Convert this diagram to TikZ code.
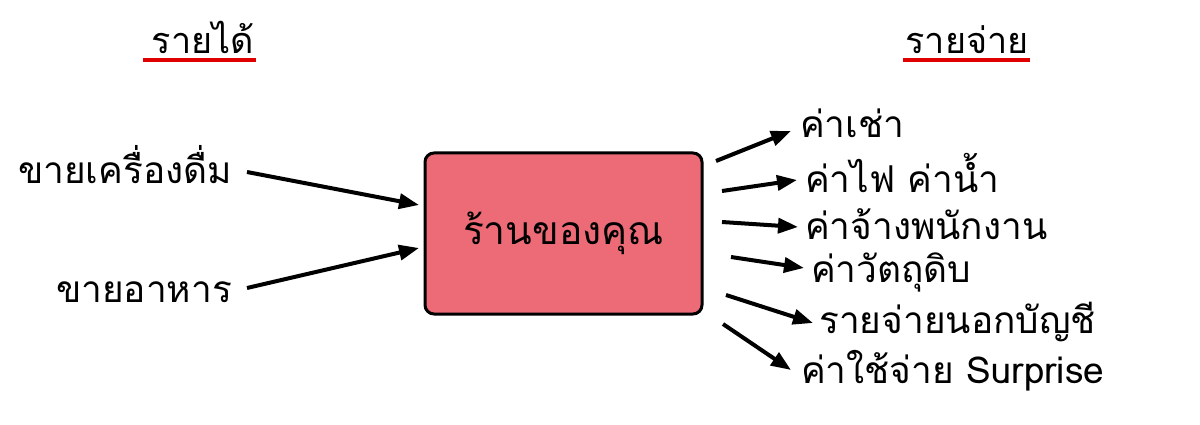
\documentclass[tikz,border=0pt]{standalone}
\usepackage{fontspec}
\newfontfamily\thaifont[Script=Thai]{Loma}
\usetikzlibrary{arrows.meta}
\definecolor{boxfill}{HTML}{EC6B76}
\definecolor{ulred}{HTML}{E00000}
\tikzset{
  lbl/.style={font=\thaifont\fontsize{37}{44}\selectfont, inner sep=0pt,
    text height=22pt, text depth=6pt, anchor=base west},
  lblL/.style={font=\thaifont\fontsize{37}{44}\selectfont, inner sep=0pt,
    text height=22pt, text depth=6pt, anchor=base east},
  ttl/.style={font=\thaifont\fontsize{36}{43}\selectfont, inner sep=0pt,
    text height=22pt, text depth=6pt, anchor=base},
  arr/.style={line width=4pt, -{Triangle[length=20pt,width=15pt]}},
  uline/.style={ulred, line width=4pt},
}
\begin{document}
\begin{tikzpicture}[x=1pt,y=-1pt]
\useasboundingbox (0,0) rectangle (1200,425);
\fill[white] (0,0) rectangle (1200,425);
% titles
\node[ttl] (inc) at (203,54) {รายได้};
\node[ttl] (exp) at (967,54) {รายจ่าย};
\coordinate (incL) at (143,60); \coordinate (incR) at (256,60);
\coordinate (expL) at (903,60); \coordinate (expR) at (1030,60);
\draw[uline] (incL) -- (incR);
\draw[uline] (expL) -- (expR);
% box
\node[draw=black, line width=3pt, fill=boxfill, rounded corners=9pt,
  minimum width=277pt, minimum height=161pt, inner sep=0pt,
  font=\thaifont\fontsize{39}{46}\selectfont] (shop) at (563.5,233.5) {ร้านของคุณ};
% left labels
\node[lblL] (drink) at (232,183) {ขายเครื่องดื่ม};
\node[lblL] (food) at (232,302) {ขายอาหาร};
\coordinate (a1s) at (247,172); \coordinate (a1e) at (419,205);
\coordinate (a2s) at (247,288); \coordinate (a2e) at (419,248);
\draw[arr] (a1s) -- (a1e);
\draw[arr] (a2s) -- (a2e);
% right labels
\node[lbl] (r1) at (800,138) {ค่าเช่า};
\node[lbl] (r2) at (805,193) {ค่าไฟ ค่าน้ำ};
\node[lbl] (r3) at (805,240) {ค่าจ้างพนักงาน};
\node[lbl] (r4) at (811,282) {ค่าวัตถุดิบ};
\node[lbl] (r5) at (819,333) {รายจ่ายนอกบัญชี};
\node[lbl] (r6) at (801,383) {ค่าใช้จ่าย Surprise};
\coordinate (b1s) at (716,161); \coordinate (b1e) at (791,131);
\coordinate (b2s) at (722,191); \coordinate (b2e) at (797,180);
\coordinate (b3s) at (722,222); \coordinate (b3e) at (798,227);
\coordinate (b4s) at (731,257); \coordinate (b4e) at (804,268);
\coordinate (b5s) at (726,295); \coordinate (b5e) at (813,323);
\coordinate (b6s) at (723,324); \coordinate (b6e) at (791,370);
\draw[arr] (b1s) -- (b1e);
\draw[arr] (b2s) -- (b2e);
\draw[arr] (b3s) -- (b3e);
\draw[arr] (b4s) -- (b4e);
\draw[arr] (b5s) -- (b5e);
\draw[arr] (b6s) -- (b6e);
\end{tikzpicture}
\end{document}
